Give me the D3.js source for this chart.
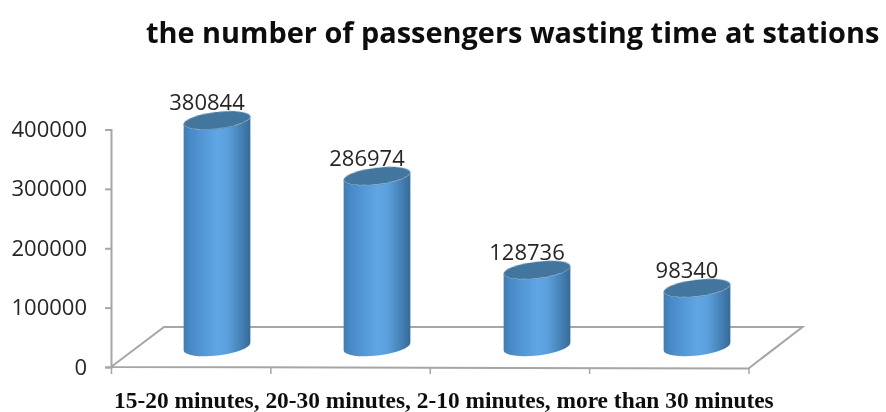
<!DOCTYPE html>
<html><head><meta charset="utf-8">
<script src="https://cdn.jsdelivr.net/npm/d3@7"></script>
<style>html,body{margin:0;padding:0;background:#fff}svg{display:block}</style>
</head><body><div id="c"></div>
<script>
const titleText = "the number of passengers wasting time at stations";
const categories = ["15-20 minutes","20-30 minutes","2-10 minutes","more than 30 minutes"];
const values = [380844,286974,128736,98340];
const yTicks = [0,100000,200000,300000,400000];

const W=886,H=412;
const svg=d3.select("#c").append("svg").attr("width",W).attr("height",H);
const defs=svg.append("defs");
const grad=defs.append("linearGradient").attr("id","body").attr("x1","0").attr("x2","1").attr("y1","0").attr("y2","0");
[[0,"#3f7db6"],[0.12,"#4a8bc8"],[0.5,"#60a6e4"],[0.66,"#5b9fdd"],[0.86,"#4680b4"],[1,"#386a96"]]
 .forEach(([o,c])=>grad.append("stop").attr("offset",o).attr("stop-color",c));
const soft=defs.append("filter").attr("id","soft").attr("x","-5%").attr("y","-20%").attr("width","110%").attr("height","140%");
soft.append("feGaussianBlur").attr("stdDeviation",0.5);

const y=d3.scaleLinear().domain([0,400000]).range([367,129.5]);
const xEdge=d3.scaleLinear().domain([0,categories.length]).range([111,748.5]);
const x=d3.scaleBand().domain(categories).range([137,777]).paddingInner(0.58).paddingOuter(0.29);

const gray="#a6a6a6";
// floor
const depthX=53, depthY=41, floorY=368;
svg.append("path").attr("fill","none").attr("stroke",gray).attr("stroke-width",2)
 .attr("d",d3.line()([[xEdge.range()[0],y(0)],[xEdge.range()[0]+depthX,floorY-depthY],[xEdge.range()[1]+depthX+1,floorY-depthY],[xEdge.range()[1],floorY+0.5],[xEdge.range()[0],y(0)]]));

// axes
const gy=svg.append("g").attr("transform",`translate(${xEdge.range()[0]},0)`)
 .call(d3.axisLeft(y).tickValues(yTicks).tickFormat(d3.format("d")).tickSize(6).tickPadding(18));
gy.selectAll("path,line").attr("stroke",gray).attr("stroke-width",2);
gy.selectAll("text").attr("font-family","'Open Sans'").attr("font-size",22).attr("fill","#262626").attr("filter","url(#soft)");

const gx=svg.append("g").attr("transform",`translate(0,${floorY})`)
 .call(d3.axisBottom(xEdge).tickValues(d3.range(categories.length+1)).tickFormat("").tickSize(6).tickSizeOuter(0));
gx.select("path").remove();
gx.selectAll("line").attr("stroke",gray).attr("stroke-width",1.5);

// cylinders
const base=346.5, tilt=-6.8*Math.PI/180, ryTop=8.4, ryBottom=9;
const bars=svg.append("g").selectAll("g").data(categories.map((c,i)=>({c,v:values[i]}))).join("g");
function ends(cx,cy,rx){return [cx-rx*Math.cos(tilt),cy-rx*Math.sin(tilt),cx+rx*Math.cos(tilt),cy+rx*Math.sin(tilt)];}
const deg=tilt*180/Math.PI;
bars.each(function(d){
  const g=d3.select(this), rx=x.bandwidth()/2, cx=x(d.c)+rx;
  const top=base-(y(0)-y(d.v));
  const [tx0,ty0,tx1,ty1]=ends(cx,top,rx);
  const [bx0,by0,bx1,by1]=ends(cx,base,rx);
  g.append("path").attr("fill","url(#body)").attr("filter","url(#soft)")
   .attr("d",`M${tx0},${ty0}L${bx0},${by0}A${rx},${ryBottom} ${deg} 0 0 ${bx1},${by1}L${tx1},${ty1}A${rx},${ryTop} ${deg} 0 1 ${tx0},${ty0}Z`);
  g.append("ellipse").attr("cx",cx).attr("cy",top).attr("rx",rx).attr("ry",ryTop)
   .attr("transform",`rotate(${deg} ${cx} ${top})`).attr("fill","#42769f").attr("filter","url(#soft)");
  g.append("text").attr("x",cx-10).attr("y",top-10).attr("text-anchor","middle")
   .attr("font-family","'Open Sans'").attr("font-size",22).attr("fill","#262626").attr("filter","url(#soft)").text(d.v);
});

// title and category line
svg.append("text").attr("x",146).attr("y",43).attr("font-family","'Open Sans'").attr("font-weight",700)
 .attr("font-size",28.9).attr("fill","#0a0a0a").attr("filter","url(#soft)").text(titleText);
svg.append("text").attr("x",114).attr("y",408).attr("font-family","'Liberation Serif'").attr("font-weight",700)
 .attr("font-size",23.4).attr("fill","#111").attr("filter","url(#soft)").text(categories.join(", "));
</script></body></html>
